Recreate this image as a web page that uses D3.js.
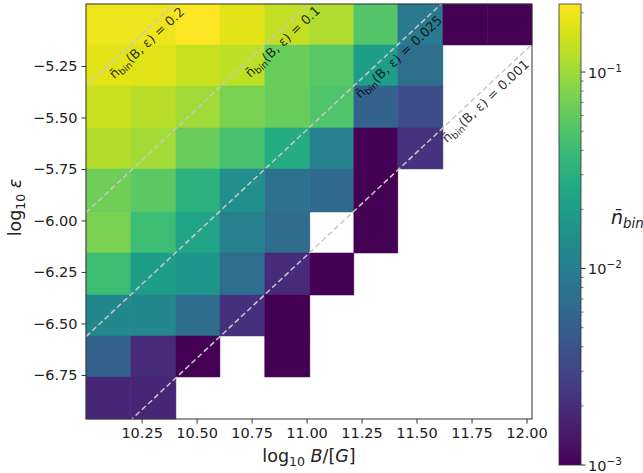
<!DOCTYPE html>
<html><head><meta charset="utf-8">
<script src="https://cdn.jsdelivr.net/npm/d3@7"></script>
<style>body{margin:0;background:#fff} text{font-family:"DejaVu Sans",sans-serif}</style>
</head><body><svg id="c" width="643" height="473"></svg>
<script>
// log10 B bin edges
const bEdges = [9.997, 10.201, 10.406, 10.606, 10.81, 11.015, 11.215, 11.415, 11.62, 11.824, 12.025];
// log10 eps bin edges, top to bottom
const epsEdges = [-4.949, -5.148, -5.347, -5.551, -5.750, -5.959, -6.158, -6.362, -6.561, -6.760, -6.964];
// mean n_bin per cell, rows top (high eps) to bottom, columns low B to high B
const nbin = [
  [0.195, 0.195, 0.22, 0.175, 0.135, 0.117, 0.052, 0.009, 0.001, 0.001],
  [0.175, 0.17, 0.14, 0.13, 0.065, 0.055, 0.02, 0.007, null, null],
  [0.14, 0.125, 0.105, 0.075, 0.065, 0.05, 0.0055, 0.0035, null, null],
  [0.12, 0.108, 0.065, 0.046, 0.028, 0.0102, 0.001, 0.0022, null, null],
  [0.067, 0.057, 0.032, 0.0148, 0.0075, 0.0063, 0.001, null, null, null],
  [0.075, 0.041, 0.023, 0.0102, 0.0066, null, 0.001, null, null, null],
  [0.041, 0.02, 0.017, 0.0069, 0.0019, 0.001, null, null, null, null],
  [0.0125, 0.0122, 0.0068, 0.0021, 0.001, null, null, null, null, null],
  [0.0053, 0.0019, 0.001, null, 0.001, null, null, null, null, null],
  [0.0018, 0.0018, null, null, null, null, null, null, null, null]
];
const xTicks = [10.25, 10.5, 10.75, 11.0, 11.25, 11.5, 11.75, 12.0];
const yTicks = [-5.25, -5.5, -5.75, -6.0, -6.25, -6.5, -6.75];
const cbMajor = [1e-3, 1e-2, 1e-1];
const cbExp = ["\u22123", "\u22122", "\u22121"];
const cbRange = [1e-3, 0.222];
// iso-lines: log10 eps = log10 B + offset
const isoLevels = ["0.2", "0.1", "0.025", "0.001"];
const isoOffsets = [-15.347, -15.959, -16.561, -17.17];
const isoLabelB = [10.082, 10.70, 11.20, 11.595];

const svg = d3.select("#c");
const L = 86, R = 532, T = 4, B = 419;
const x = d3.scaleLinear().domain([bEdges[0], bEdges[bEdges.length-1]]).range([L, R]);
const y = d3.scaleLinear().domain([epsEdges[epsEdges.length-1], epsEdges[0]]).range([B, T]);
const color = d3.scaleSequentialLog(d3.interpolateViridis).domain(cbRange).clamp(true);

svg.append("defs").append("clipPath").attr("id", "clip")
  .append("rect").attr("x", L).attr("y", T).attr("width", R - L).attr("height", B - T);

// cells
const cells = [];
nbin.forEach((row, i) => row.forEach((v, j) => { if (v != null) cells.push({i, j, v}); }));
svg.append("g").selectAll("rect").data(cells).join("rect")
  .attr("x", d => x(bEdges[d.j]))
  .attr("width", d => x(bEdges[d.j + 1]) - x(bEdges[d.j]))
  .attr("y", d => y(epsEdges[d.i]))
  .attr("height", d => y(epsEdges[d.i + 1]) - y(epsEdges[d.i]))
  .attr("fill", d => color(d.v))
  .attr("stroke", d => color(d.v)).attr("stroke-width", 0.5);

// iso lines
const isoG = svg.append("g").attr("clip-path", "url(#clip)");
const x0 = bEdges[0], x1 = bEdges[bEdges.length-1];
isoOffsets.forEach(c => {
  isoG.append("line")
    .attr("x1", x(x0)).attr("y1", y(x0 + c))
    .attr("x2", x(x1)).attr("y2", y(x1 + c))
    .attr("stroke", "#c8c8c8").attr("stroke-width", 1.5)
    .attr("stroke-dasharray", "5.5,3");
});
// iso labels
isoLevels.forEach((lev, k) => {
  const c = isoOffsets[k];
  const bx = isoLabelB[k];
  const px = x(bx), py = y(bx + c);
  const dx = x(bx + 1) - x(bx), dy = y(bx + 1 + c) - y(bx + c);
  const len = Math.hypot(dx, dy);
  const ux = dx / len, uy = dy / len;
  const nx = -uy, ny = ux; // normal pointing down-right
  const off = 14;
  const tx = px + nx * off, ty = py + ny * off;
  const ang = Math.atan2(dy, dx) * 180 / Math.PI;
  const t = svg.append("text")
    .attr("transform", `translate(${tx},${ty}) rotate(${ang})`)
    .attr("font-size", 13).attr("fill", "#000").attr("fill-opacity", 0.82);
  t.append("tspan").text("n\u0304");
  t.append("tspan").attr("font-size", 9.5).attr("dy", 3).text("bin");
  t.append("tspan").attr("dy", -3).text("(B, \u03b5) = " + lev);
});

// frame
svg.append("rect").attr("x", L).attr("y", T).attr("width", R - L).attr("height", B - T)
  .attr("fill", "none").attr("stroke", "#333").attr("stroke-width", 1);

// axes
const xAxis = svg.append("g").attr("transform", `translate(0,${B})`)
  .call(d3.axisBottom(x).tickValues(xTicks).tickFormat(d3.format(".2f")).tickSize(4.5).tickPadding(4));
const yAxis = svg.append("g").attr("transform", `translate(${L},0)`)
  .call(d3.axisLeft(y).tickValues(yTicks).tickFormat(d3.format(".2f")).tickSize(4.5).tickPadding(4));
[xAxis, yAxis].forEach(g => {
  g.select(".domain").remove();
  g.selectAll("text").attr("font-size", 14.5).attr("fill", "#222").style("font-family", "DejaVu Sans");
  g.selectAll("line").attr("stroke", "#333");
});

// axis labels
const xl = svg.append("text").attr("x", (L + R) / 2).attr("y", 462).attr("text-anchor", "middle").attr("font-size", 17.5).attr("fill", "#222");
xl.append("tspan").text("log");
xl.append("tspan").attr("font-size", 12.5).attr("dy", 4).text("10");
xl.append("tspan").attr("dy", -4).attr("font-style", "italic").text(" B");
xl.append("tspan").text("/[");
xl.append("tspan").attr("font-style", "italic").text("G");
xl.append("tspan").text("]");

const yl = svg.append("text").attr("transform", `translate(21,${(T + B) / 2 - 4}) rotate(-90)`)
  .attr("text-anchor", "middle").attr("font-size", 17.5).attr("fill", "#222");
yl.append("tspan").text("log");
yl.append("tspan").attr("font-size", 12.5).attr("dy", 4).text("10");
yl.append("tspan").attr("dy", -4).attr("font-style", "italic").text(" \u03b5");

// colorbar
const CL = 559, CW = 22, CT = 4, CB = 465;
const cb = d3.scaleLog().domain(cbRange).range([CB, CT]);
const grad = svg.select("defs").append("linearGradient").attr("id", "cbg")
  .attr("x1", 0).attr("y1", 1).attr("x2", 0).attr("y2", 0);
d3.range(0, 1.0001, 0.02).forEach(f => {
  grad.append("stop").attr("offset", f).attr("stop-color", d3.interpolateViridis(f));
});
svg.append("rect").attr("x", CL).attr("y", CT).attr("width", CW).attr("height", CB - CT)
  .attr("fill", "url(#cbg)").attr("stroke", "#333").attr("stroke-width", 0.8);
const minor = [];
[1e-3, 1e-2, 1e-1].forEach(dec => { for (let m = 2; m <= 9; m++) { const v = dec * m; if (v <= cbRange[1]) minor.push(v); } });
svg.append("g").selectAll("line.mn").data(minor).join("line")
  .attr("x1", CL + CW).attr("x2", CL + CW + 2.5).attr("y1", d => cb(d)).attr("y2", d => cb(d))
  .attr("stroke", "#333").attr("stroke-width", 0.7);
svg.append("g").selectAll("line.mj").data(cbMajor).join("line")
  .attr("x1", CL + CW).attr("x2", CL + CW + 4.5).attr("y1", d => cb(d)).attr("y2", d => cb(d))
  .attr("stroke", "#333").attr("stroke-width", 1);
cbMajor.forEach((v, k) => {
  const t = svg.append("text").attr("x", CL + CW + 7).attr("y", cb(v) + 5.5)
    .attr("font-size", 14.5).attr("fill", "#222");
  t.append("tspan").text("10");
  t.append("tspan").attr("font-size", 10.5).attr("dy", -6).text(cbExp[k]);
});
const cl = svg.append("text").attr("x", 611).attr("y", 224).attr("font-size", 19).attr("fill", "#222").attr("font-style", "italic");
cl.append("tspan").text("n\u0304");
cl.append("tspan").attr("font-size", 13.5).attr("dy", 4).text("bin");
</script></body></html>
